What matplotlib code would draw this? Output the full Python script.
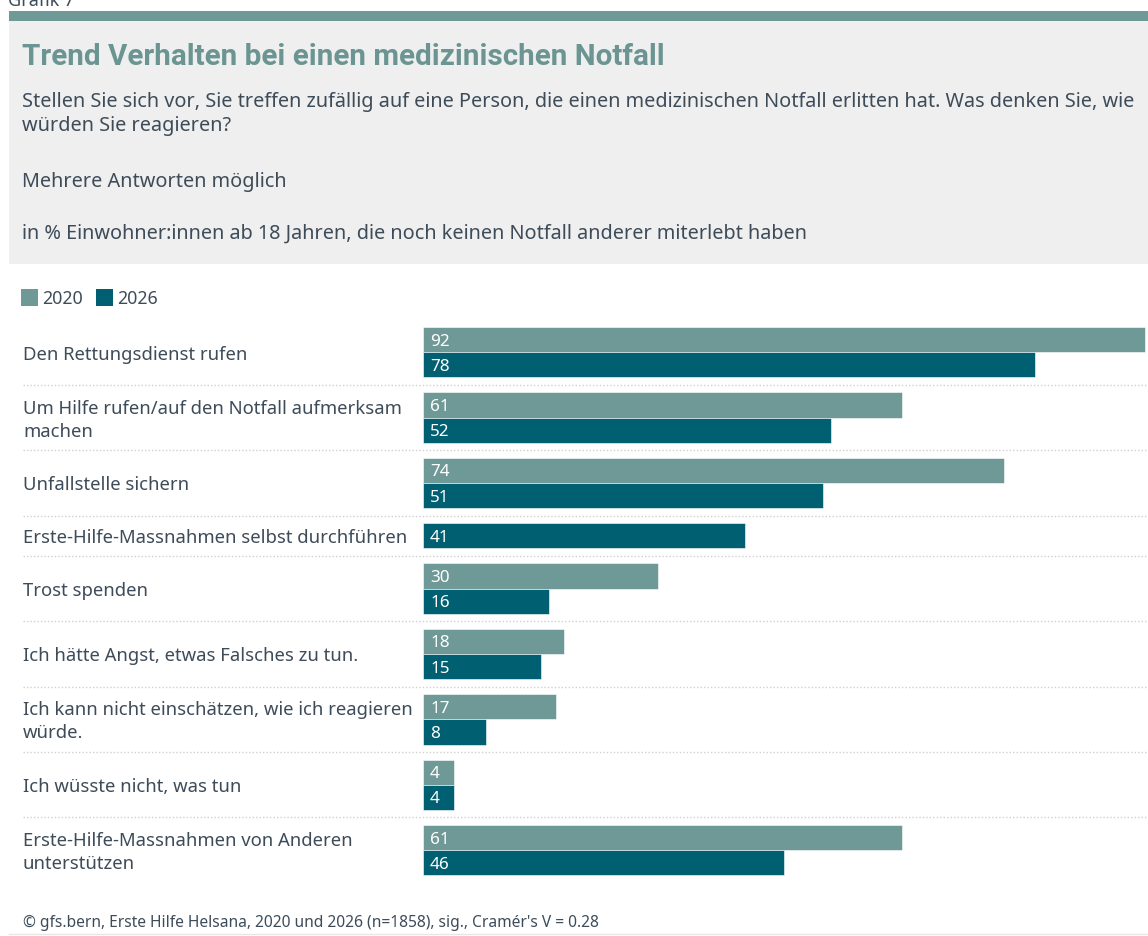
import numpy as np
import matplotlib
matplotlib.use("Agg")
import matplotlib.pyplot as plt
from matplotlib.patches import Rectangle
from matplotlib.lines import Line2D

W, H = 1148, 937

categories = [
    "Den Rettungsdienst rufen",
    "Um Hilfe rufen/auf den Notfall aufmerksam\nmachen",
    "Unfallstelle sichern",
    "Erste-Hilfe-Massnahmen selbst durchführen",
    "Trost spenden",
    "Ich hätte Angst, etwas Falsches zu tun.",
    "Ich kann nicht einschätzen, wie ich reagieren\nwürde.",
    "Ich wüsste nicht, was tun",
    "Erste-Hilfe-Massnahmen von Anderen\nunterstützen",
]
v2020 = [92, 61, 74, np.nan, 30, 18, 17, 4, 61]
v2026 = [78, 52, 51, 41, 16, 15, 8, 4, 46]
series = ["2020", "2026"]

c2020 = "#6f9996"
c2026 = "#005f70"
title_col = "#6b9592"
text_col = "#3e4c59"
plt.rcParams["font.family"] = ["Noto Sans", "DejaVu Sans"]


def fx(x):
    return x / W


def fy(y):
    return 1 - y / H


fig = plt.figure(figsize=(W / 100, H / 100), dpi=100)

# header: band and grey box
fig.patches.append(Rectangle((fx(9), fy(22)), fx(W - 9), 10 / H, transform=fig.transFigure,
                             facecolor="#6f9996", edgecolor="none"))
fig.patches.append(Rectangle((fx(9), fy(265)), fx(W - 9), 243 / H, transform=fig.transFigure,
                             facecolor="#efefef", edgecolor="none"))
fig.text(fx(8), fy(6), "Grafik 7", fontsize=13, color=text_col, va="baseline")

fig.text(fx(22), fy(57), "Trend Verhalten bei einen medizinischen Notfall",
         fontsize=21.3, fontweight="bold", color=title_col, va="center",
         family=["Roboto", "DejaVu Sans"])
fig.text(fx(22), fy(114), "Stellen Sie sich vor, Sie treffen zufällig auf eine Person, die einen medizinischen Notfall erlitten hat. Was denken Sie, wie\nwürden Sie reagieren?",
         fontsize=14.3, color=text_col, va="center", linespacing=1.32)
fig.text(fx(22), fy(182), "Mehrere Antworten möglich", fontsize=14.3, color=text_col, va="center")
fig.text(fx(22), fy(234), "in % Einwohner:innen ab 18 Jahren, die noch keinen Notfall anderer miterlebt haben",
         fontsize=14.3, color=text_col, va="center")

# legend
lx = 21
for name, col in zip(series, [c2020, c2026]):
    fig.patches.append(Rectangle((fx(lx), fy(307)), 17 / W, 17 / H, transform=fig.transFigure,
                                 facecolor=col, edgecolor="none"))
    fig.text(fx(lx + 21), fy(299), name, fontsize=12.8, color=text_col, va="center")
    lx += 75

# bar area
top, bottom = 320.5, 881
ax = fig.add_axes([fx(23), fy(bottom), fx(W - 23), (bottom - top) / H])
k = 92 / 722
ax.set_xlim(-400 * k, 725 * k)
ax.set_ylim(bottom, top)
ax.axis("off")

bar_h = 25.2
pad = 7.5
y = top
for i, cat in enumerate(categories):
    vals = [(v2020[i], c2020), (v2026[i], c2026)]
    vals = [(v, c) for v, c in vals if not np.isnan(v)]
    row_h = 2 * pad + bar_h * len(vals)
    yb = y + pad
    for v, c in vals:
        ax.barh(yb + bar_h / 2, v, height=bar_h, left=0, color=c, edgecolor="white", linewidth=0.4)
        ax.text(0.9, yb + bar_h / 2 + 1, f"{v:g}", color="white", fontsize=12.3, va="center", ha="left")
        yb += bar_h
    ax.text(0, y + row_h / 2 + 1.5, cat, transform=ax.get_yaxis_transform(), fontsize=13.3,
            color=text_col, va="center", ha="left", linespacing=1.36)
    y += row_h
    if i < len(categories) - 1:
        ax.add_line(Line2D([0, 1], [y, y], transform=ax.get_yaxis_transform(), color="#d0d0d0",
                           linewidth=1, linestyle=(0, (1, 1.5))))

fig.text(fx(23), fy(923), "© gfs.bern, Erste Hilfe Helsana, 2020 und 2026 (n=1858), sig., Cramér's V = 0.28",
         fontsize=11.2, color=text_col, va="center")
fig.add_artist(Line2D([fx(9), 1], [fy(935), fy(935)], color="#e6e6e6", linewidth=1))

fig.savefig("out.png", dpi=100)
